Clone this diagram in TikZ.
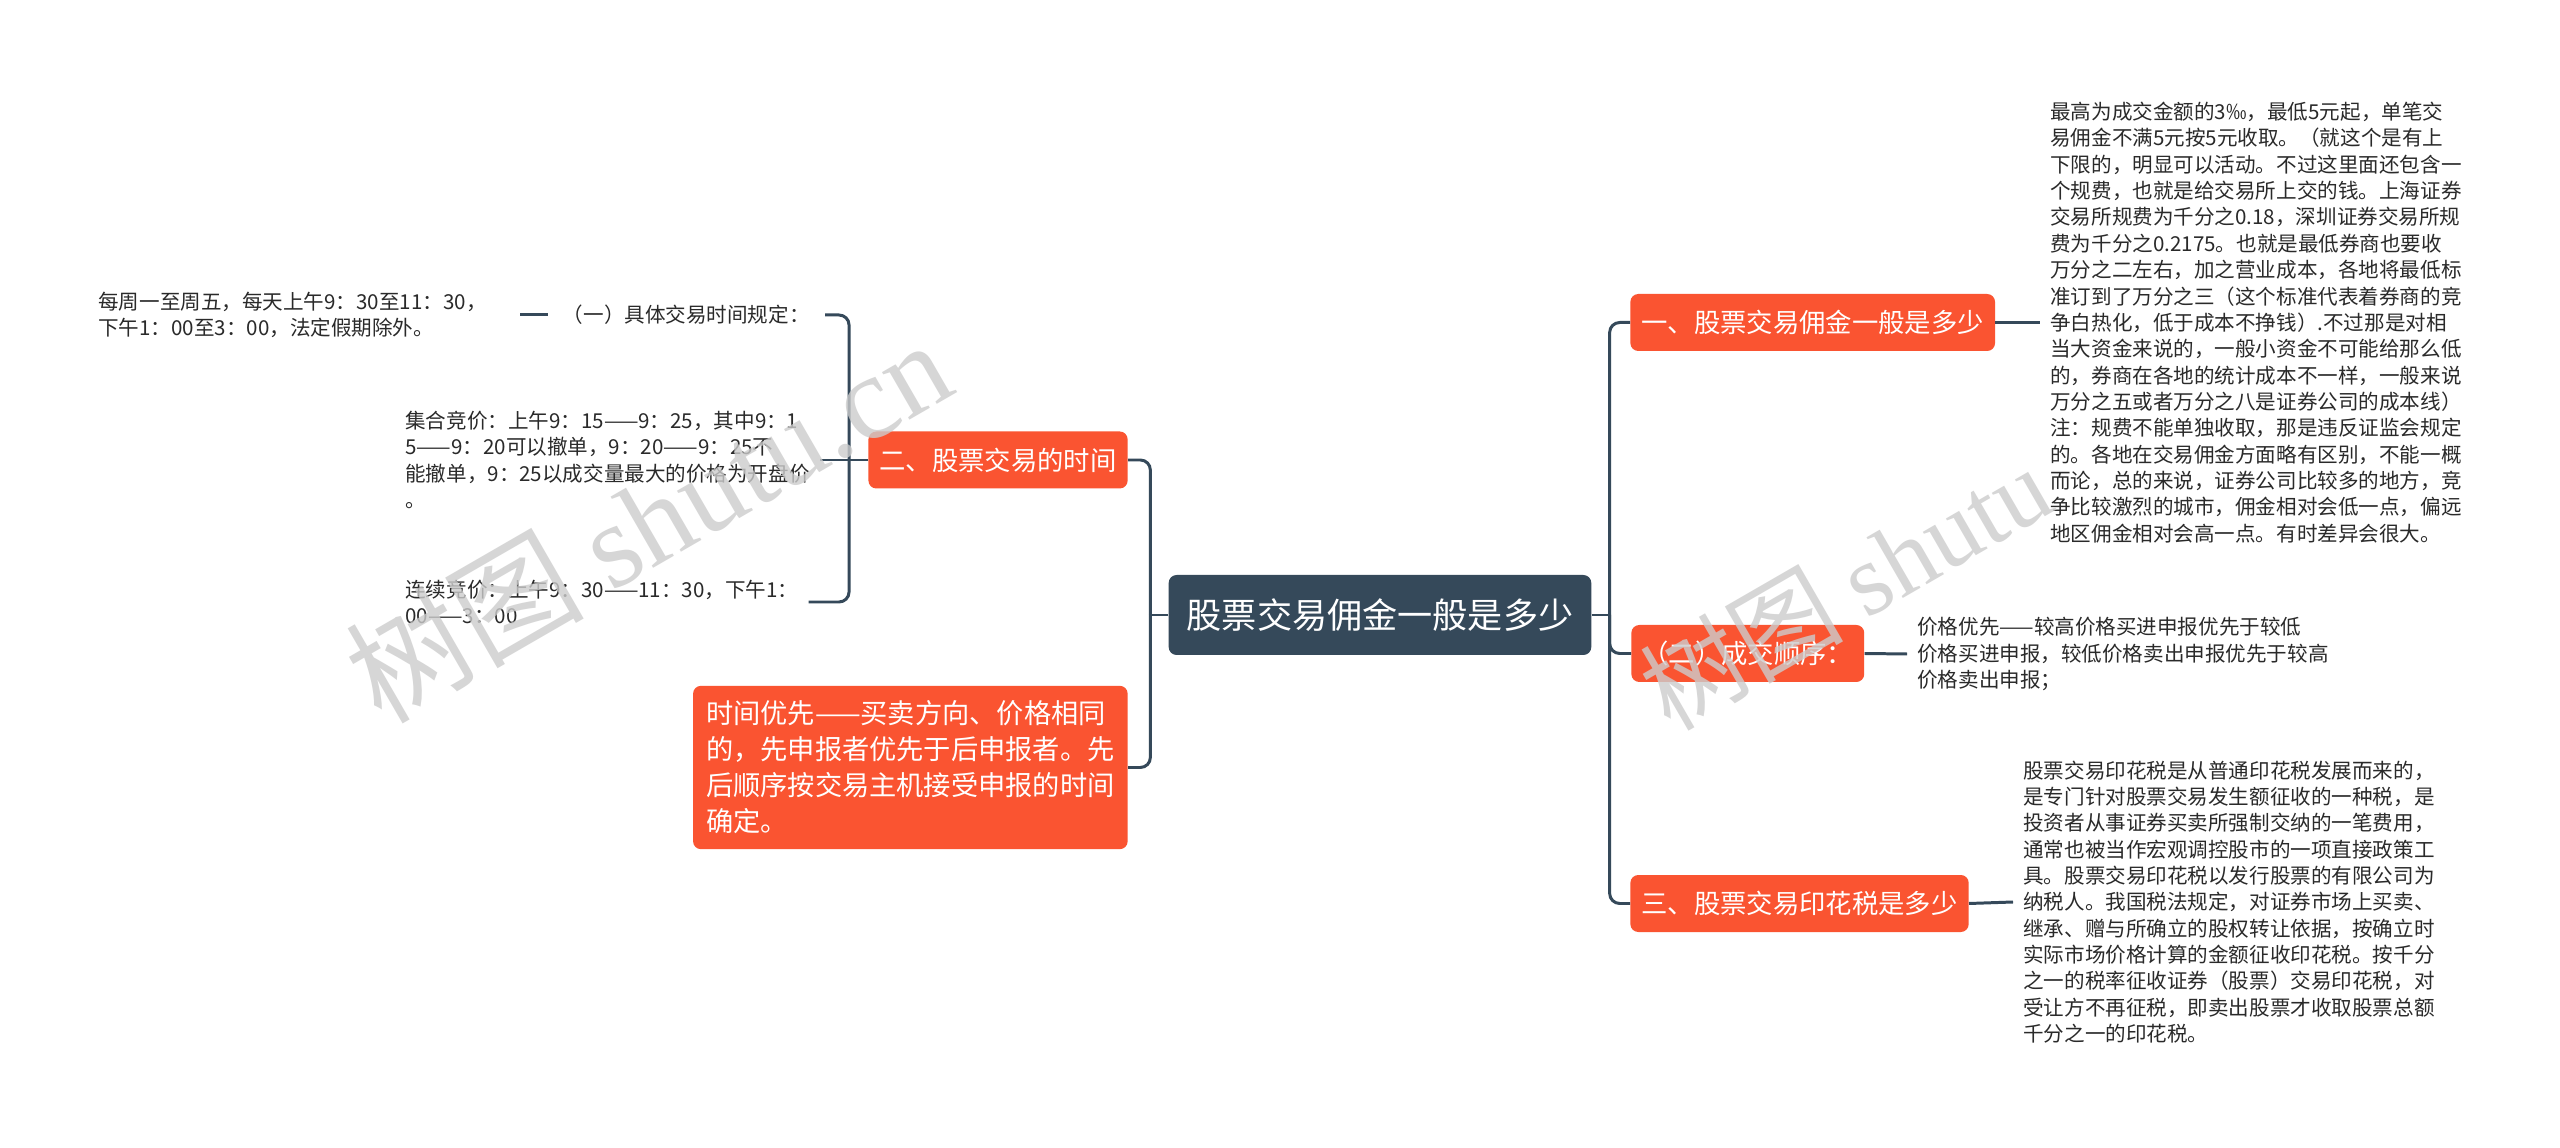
\documentclass[tikz,border=0pt]{standalone}
\usepackage{fontspec}
\setmainfont{Noto Sans CJK SC}
\newfontfamily\wmserif{Liberation Serif}
\usepackage{tikz}
\usetikzlibrary{positioning,calc}
\definecolor{slate} {HTML}{35495A}
\definecolor{flame} {HTML}{FA5431}
\definecolor{ink}   {HTML}{2A2A2A}
\definecolor{wmgray}{HTML}{CCCCCC}
\tikzset{
  hub/.style   = {rounded corners=4.5pt, fill=slate, text=white,
                  font=\fontsize{20}{24}\selectfont,
                  minimum height=1.6cm, inner xsep=0.36cm},
  topic/.style = {rounded corners=4.5pt, fill=flame, text=white,
                  font=\fontsize{15}{16.1}\selectfont,
                  minimum height=1.14cm, inner xsep=0.22cm},
  note/.style  = {text=ink, font=\fontsize{11.7}{15}\selectfont,
                  align=left, inner xsep=0.2cm, inner ysep=0.1cm},
  link/.style  = {draw=slate, line width=1.7pt, rounded corners=0.2cm},
  wmark/.style = {text=wmgray, opacity=0.8, rotate=30},
}

\begin{document}
\begin{tikzpicture}
  \fill[white] (0,0) rectangle (51.2,22.94);
  \useasboundingbox (0,0) rectangle (51.2,22.94);

  % centre
  \node[hub] (root) at (27.6,10.64) {股票交易佣金一般是多少};

  % right side
  \node[topic, anchor=west] (fee)   at (32.6,16.49) {一、股票交易佣金一般是多少};
  \node[topic, anchor=west] (order) at (32.62,9.87) {（二）成交顺序：};
  \node[topic, anchor=west] (stamp) at (32.6,4.87)  {三、股票交易印花税是多少};

  \node[note, anchor=west] (feetxt) at (40.8,16.49)
    {最高为成交金额的3‰，最低5元起，单笔交\\
     易佣金不满5元按5元收取。（就这个是有上\\
     下限的，明显可以活动。不过这里面还包含一\\
     个规费，也就是给交易所上交的钱。上海证券\\
     交易所规费为千分之0.18，深圳证券交易所规\\
     费为千分之0.2175。也就是最低券商也要收\\
     万分之二左右，加之营业成本，各地将最低标\\
     准订到了万分之三（这个标准代表着券商的竞\\
     争白热化，低于成本不挣钱）.不过那是对相\\
     当大资金来说的，一般小资金不可能给那么低\\
     的，券商在各地的统计成本不一样，一般来说\\
     万分之五或者万分之八是证券公司的成本线）\\
     注：规费不能单独收取，那是违反证监会规定\\
     的。各地在交易佣金方面略有区别，不能一概\\
     而论，总的来说，证券公司比较多的地方，竞\\
     争比较激烈的城市，佣金相对会低一点，偏远\\
     地区佣金相对会高一点。有时差异会很大。};
  \node[note, anchor=west] (ordertxt) at (38.14,9.86)
    {价格优先——较高价格买进申报优先于较低\\
     价格买进申报，较低价格卖出申报优先于较高\\
     价格卖出申报；};
  \node[note, anchor=west] (stamptxt) at (40.26,4.9)
    {股票交易印花税是从普通印花税发展而来的，\\
     是专门针对股票交易发生额征收的一种税，是\\
     投资者从事证券买卖所强制交纳的一笔费用，\\
     通常也被当作宏观调控股市的一项直接政策工\\
     具。股票交易印花税以发行股票的有限公司为\\
     纳税人。我国税法规定，对证券市场上买卖、\\
     继承、赠与所确立的股权转让依据，按确立时\\
     实际市场价格计算的金额征收印花税。按千分\\
     之一的税率征收证券（股票）交易印花税，对\\
     受让方不再征税，即卖出股票才收取股票总额\\
     千分之一的印花税。};

  \coordinate (rsp) at ($(root.east)+(0.36,0)$);
  \draw[link] (root.east) -- (rsp);
  \draw[link] (rsp) |- (fee.west);
  \draw[link] (rsp) |- (order.west);
  \draw[link] (rsp) |- (stamp.west);
  \draw[link] (fee.east) -- (feetxt.west);
  \draw[link] (order.east) -- (ordertxt.west);
  \draw[link] (stamp.east) -- (stamptxt.west);

  % left side
  \node[topic, anchor=east] (hours) at (22.56,13.74) {二、股票交易的时间};
  \node[topic, anchor=east, align=left, inner xsep=0.26cm, inner ysep=0.3cm,
        font=\fontsize{15.5}{20.5}\selectfont] (prio) at (22.56,7.59)
    {时间优先——买卖方向、价格相同\\
     的，先申报者优先于后申报者。先\\
     后顺序按交易主机接受申报的时间\\
     确定。};

  \coordinate (lsp) at ($(root.west)+(-0.36,0)$);
  \draw[link] (root.west) -- (lsp);
  \draw[link] (lsp) |- (hours.east);
  \draw[link] (lsp) |- (prio.east);

  \node[note, anchor=east, inner xsep=0.3cm] (rule) at (16.5,16.64) {（一）具体交易时间规定：};
  \node[note, anchor=west, text width=8.22cm] (week) at (1.76,16.64)
    {每周一至周五，每天上午9：30至11：30，\\
     下午1：00至3：00，法定假期除外。};
  \node[note, anchor=west] (call) at (7.9,13.74)
    {集合竞价：上午9：15——9：25，其中9：1\\
     5——9：20可以撤单，9：20——9：25不\\
     能撤单，9：25以成交量最大的价格为开盘价\\
     。};
  \node[note, anchor=west] (cont) at (7.9,10.9)
    {连续竞价：上午9：30——11：30，下午1：\\
     00——3：00};

  \coordinate (lsp2) at ($(hours.west)+(-0.38,0)$);
  \draw[link] (hours.west) -- (call.east);
  \draw[link] (lsp2) |- (rule.east);
  \draw[link] (lsp2) |- (cont.east);
  \draw[link] (rule.west) -- (week.east);

  % watermarks
  \node[wmark, font=\fontsize{68}{68}\selectfont] (wm1) at (12.95,12.55) {树图 {\wmserif shutu.cn}};
  \node[wmark, font=\fontsize{58}{58}\selectfont] (wm2) at (36.9,11.2) {树图 {\wmserif shutu}};
\end{tikzpicture}
\end{document}
